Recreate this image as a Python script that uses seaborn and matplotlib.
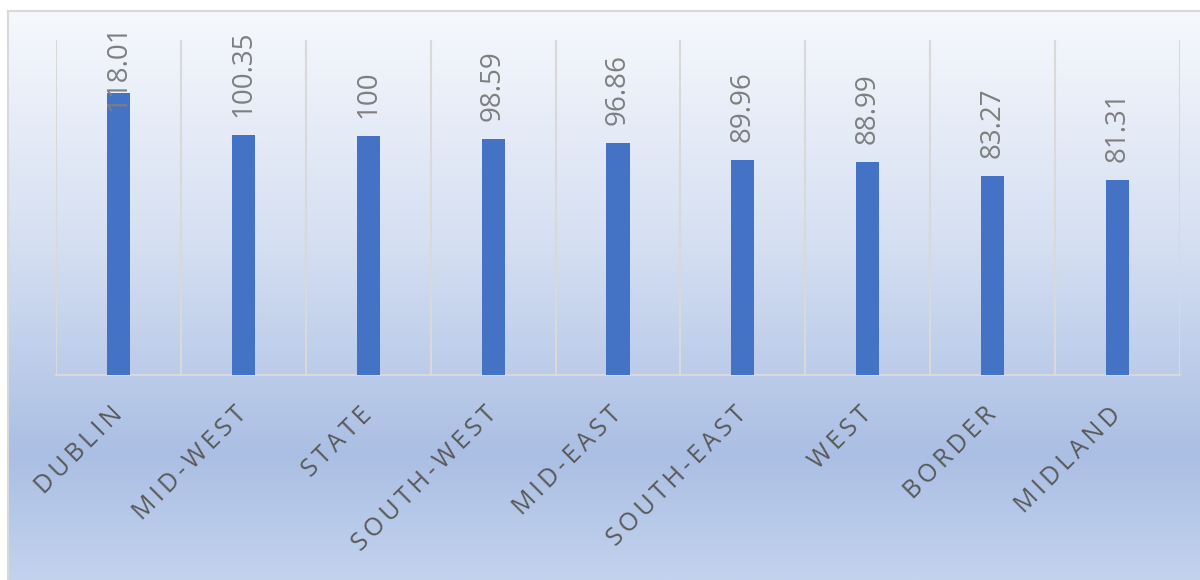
import numpy as np
import matplotlib
matplotlib.use("Agg")
import matplotlib.pyplot as plt
from matplotlib.colors import LinearSegmentedColormap
import seaborn as sns

categories = ["DUBLIN", "MID-WEST", "STATE", "SOUTH-WEST", "MID-EAST",
              "SOUTH-EAST", "WEST", "BORDER", "MIDLAND"]
values = [118.01, 100.35, 100, 98.59, 96.86, 89.96, 88.99, 83.27, 81.31]
value_labels = ["118.01", "100.35", "100", "98.59", "96.86", "89.96", "88.99", "83.27", "81.31"]

sns.set_theme(style="white")
plt.rcParams['font.family'] = ['Open Sans', 'DejaVu Sans']

W, H = 1200, 580
fig = plt.figure(figsize=(12, 5.8), dpi=100)
fig.patch.set_facecolor("white")

# background gradient panel
bg = fig.add_axes([8 / W, 0, 1 - 8 / W, (H - 11) / H], zorder=-5)
cmap = LinearSegmentedColormap.from_list(
    "bg", [(0.0, "#f6f8fc"), (0.40, "#d6e0f2"), (0.78, "#abbfe4"), (1.0, "#c3d3ee")])
grad = np.linspace(0, 1, 256).reshape(-1, 1)
bg.imshow(grad, aspect="auto", cmap=cmap, extent=[0, 1, 0, 1], origin="upper")
bg.set_xlim(0, 1); bg.set_ylim(0, 1)
bg.set_xticks([]); bg.set_yticks([])
for s in ["right", "bottom"]:
    bg.spines[s].set_visible(False)
for s in ["left", "top"]:
    bg.spines[s].set_color("#d9d9d9")
    bg.spines[s].set_linewidth(1.5)

# plot axes
left, right, bottom_px, top_px = 56, 1180, 375, 40
ax = fig.add_axes([left / W, (H - bottom_px) / H, (right - left) / W, (bottom_px - top_px) / H])
ax.set_facecolor("none")

sns.barplot(x=categories, y=values, color="#4472C4", width=0.185, saturation=1,
            linewidth=0, ax=ax, zorder=3)

ax.set_xlim(-0.5, len(categories) - 0.5)
ax.set_ylim(0, 140)
ax.set_yticks([])
ax.set_xlabel(""); ax.set_ylabel("")
ax.set_xticks(np.arange(len(categories) + 1) - 0.5, minor=True)
ax.grid(which="minor", axis="x", color="#d9d9d9", linewidth=1.5, zorder=0)
ax.grid(which="major", visible=False)
ax.tick_params(axis="x", which="both", length=0)
for s in ["left", "right", "top"]:
    ax.spines[s].set_visible(False)
ax.spines["bottom"].set_color("#d9d9d9")
ax.spines["bottom"].set_linewidth(1.5)

# letter-spaced category labels (Excel-style character spacing)
spaced = ["\u2009".join(c) for c in categories]
ax.set_xticks(np.arange(len(categories)))
ax.set_xticklabels(spaced, rotation=45, ha="right", va="center",
                   rotation_mode="anchor", fontsize=18, color="#595959")
ax.tick_params(axis="x", which="major", pad=26)

# data labels
for i, (v, lab) in enumerate(zip(values, value_labels)):
    y = min(v + 7.5, 110.5)
    ax.text(i, y, lab, rotation=90, ha="center", va="bottom",
            fontsize=20, color="#7f7f7f", zorder=4)

fig.savefig("out.png", dpi=100)
